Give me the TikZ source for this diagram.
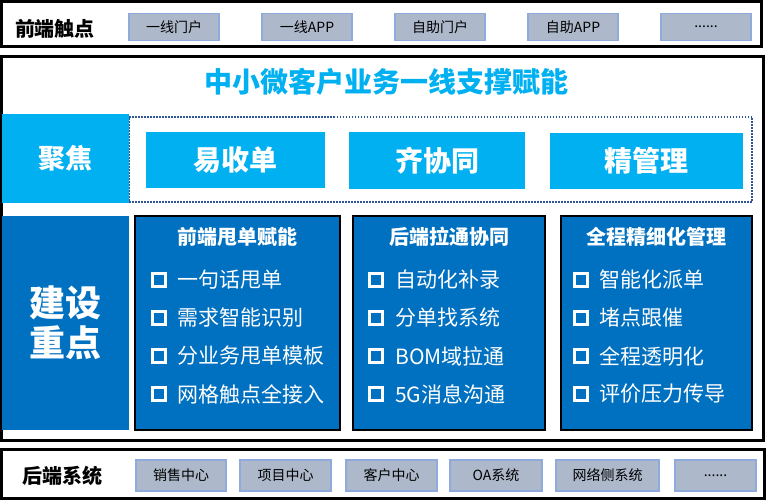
\documentclass[tikz,border=0pt]{standalone}
\usepackage{fontspec}
\usepackage{tikz}
\setmainfont{Noto Sans CJK SC}
\definecolor{skyfill}{HTML}{00B0F0}
\definecolor{deepfill}{HTML}{0070C0}
\definecolor{btnfill}{HTML}{ADB9CA}
\definecolor{btnline}{HTML}{8FAADC}
\definecolor{dotline}{HTML}{2F5597}
\newcommand\pxsize[1]{\fontsize{#1}{#1}\selectfont}
\newcommand\moredots{......}

\begin{document}
\begin{tikzpicture}[x=1pt,y=-1pt,
        frame/.style={draw=black,line width=3pt,inner sep=0pt},
        btn/.style={draw=btnline,fill=btnfill,line width=1.5pt,minimum height=27pt,inner sep=0pt,font=\pxsize{14}},
        layer/.style={font=\pxsize{20}\bfseries},
        focus/.style={fill=skyfill,text=white,inner sep=0pt,font=\pxsize{28}\bfseries},
        pillar/.style={draw=black,fill=deepfill,line width=2.5pt,minimum width=#1,minimum height=214pt,inner sep=0pt},
        head/.style={text=white,font=\pxsize{20}\bfseries},
        chk/.style={draw=white,line width=3pt,minimum size=12.5pt,inner sep=0pt},
        item/.style={text=white,anchor=west,inner sep=0pt,font=\pxsize{21}}]
        \useasboundingbox (0,0) rectangle (766,500);

        \node[frame,minimum width=760pt,minimum height=45pt] (front) at (381,24) {};
        \node[layer] (frontlbl) at (55,29) {前端触点};
        \foreach \t [count=\i] in {一线门户,一线APP,自助门户,自助APP,\moredots}
                \node[btn,minimum width=90pt] (fb\i) at (41+133*\i,27) {\t};

        \node[frame,minimum width=762pt,minimum height=383pt] (core) at (382,248.5) {};
        \node[text=skyfill,font=\pxsize{28}\bfseries] (title) at (386,82) {中小微客户业务一线支撑赋能};

        \node[draw=dotline,dash pattern=on 1.5pt off 1.5pt,line width=1.5pt,minimum width=623pt,minimum height=85pt] (focusrow) at (440.5,159.5) {};
        \node[focus,minimum width=127pt,minimum height=89pt,font=\pxsize{27}\bfseries] (focuslbl) at (65.5,158.5) {聚焦};
        \node[focus,minimum width=179pt,minimum height=56pt] (yi) at (235.5,160) {易收单};
        \node[focus,minimum width=176pt,minimum height=57pt] (qi) at (437,160.5) {齐协同};
        \node[focus,minimum width=193pt,minimum height=56pt] (jing) at (646.5,161) {精管理};

        \node[fill=deepfill,minimum width=127pt,minimum height=214pt,inner sep=0pt] (keylbl) at (65.5,323) {};
        \node[text=white,font=\pxsize{36}\bfseries,align=center] (keytxt) at (65.5,322.5) {建设\\[4pt]重点};

        \node[pillar=205pt] (p1) at (237.5,323) {};
        \node[pillar=192pt] (p2) at (449,323) {};
        \node[pillar=191pt] (p3) at (656.5,323) {};
        \node[head] (h1) at (237.5,237) {前端甩单赋能};
        \node[head] (h2) at (449,237) {后端拉通协同};
        \node[head] (h3) at (656.5,237) {全程精细化管理};

        \foreach \t [count=\i] in {一句话甩单,需求智能识别,分业务甩单模板,网格触点全接入}
        {
                \node[chk] (b1\i) at (159,242+38*\i) {};
                \node[item] (t1\i) at (177,242+38*\i) {\t};
        }
        \foreach \t [count=\i] in {自动化补录,分单找系统,BOM域拉通,5G消息沟通}
        {
                \node[chk] (b2\i) at (376,242+38*\i) {};
                \node[item] (t2\i) at (395,242+38*\i) {\t};
        }
        \foreach \t [count=\i] in {智能化派单,堵点跟催,全程透明化,评价压力传导}
        {
                \node[chk] (b3\i) at (581,242+38*\i) {};
                \node[item] (t3\i) at (599,242+38*\i) {\t};
        }

        \node[frame,minimum width=763pt,minimum height=49pt] (back) at (382.5,473.5) {};
        \node[layer] (backlbl) at (63,476) {后端系统};
        \foreach \x/\w/\t [count=\i] in {181/90/销售中心,285.5/91/项目中心,391.5/91/客户中心,496/92/OA系统,607.5/103/网络侧系统,715.5/81/\moredots}
                \node[btn,minimum width=\w pt,minimum height=31pt] (bb\i) at (\x,475.5) {\t};
\end{tikzpicture}
\end{document}
